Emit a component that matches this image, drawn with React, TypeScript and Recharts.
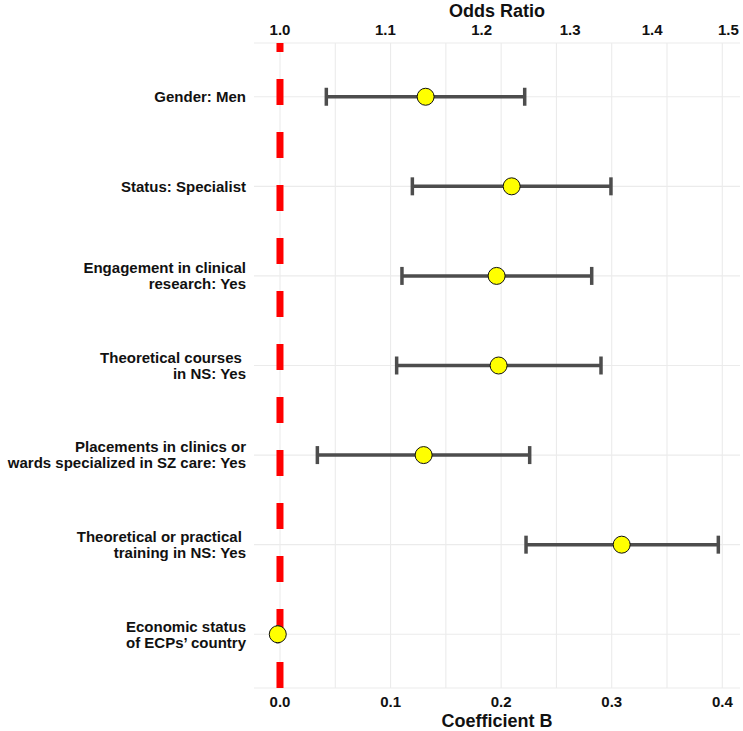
import React from 'react';
import { ScatterChart, Scatter, XAxis, YAxis, CartesianGrid, ErrorBar, ReferenceLine } from 'recharts';

// predictors, top to bottom
const predictors = [
  'Gender: Men',
  'Status: Specialist',
  'Engagement in clinical\nresearch: Yes',
  'Theoretical courses \nin NS: Yes',
  'Placements in clinics or\nwards specialized in SZ care: Yes',
  'Theoretical or practical \ntraining in NS: Yes',
  'Economic status\nof ECPs\u2019 country',
];
const coefB = [0.1317, 0.2095, 0.1959, 0.1977, 0.1299, 0.309, -0.002];
const ciLower = [0.0419, 0.1197, 0.1103, 0.1055, 0.0338, 0.2225, -0.002];
const ciUpper = [0.2213, 0.2993, 0.2819, 0.2903, 0.2258, 0.3964, -0.002];

const bTicks = [0, 0.1, 0.2, 0.3, 0.4];
const orTicks = [1.0, 1.1, 1.2, 1.3, 1.4, 1.5];
const gridB = [0, 0.05, 0.1, 0.15, 0.2, 0.25, 0.3, 0.35, 0.4];

const FONT = '"Liberation Sans", Arial, Helvetica, sans-serif';
const X_DOMAIN: [number, number] = [-0.0235, 0.416];

const rows = predictors.map((name, i) => ({
  name,
  y: i,
  b: coefB[i],
  err: [coefB[i] - ciLower[i], ciUpper[i] - coefB[i]],
}));

const PredictorTick = (props: any) => {
  const { y, payload } = props;
  const lines = (predictors[payload.value] || '').split('\n');
  const first = -(lines.length - 1) * 8 + 5.3;
  return (
    <text
      x={246}
      y={y + first}
      textAnchor="end"
      fontFamily={FONT}
      fontWeight="bold"
      fontSize={15}
      fill="#111"
      style={{ whiteSpace: 'pre' }}
    >
      {lines.map((ln, k) => (
        <tspan key={k} x={246} dy={k === 0 ? 0 : 16}>
          {ln}
        </tspan>
      ))}
    </text>
  );
};

const BottomTick = (props: any) => (
  <text x={props.x} y={707} textAnchor="middle" fontFamily={FONT} fontWeight="bold" fontSize={15} fill="#111">
    {props.payload.value.toFixed(1)}
  </text>
);

const TopTick = (props: any) => (
  <text x={props.x} y={35} textAnchor="middle" fontFamily={FONT} fontWeight="bold" fontSize={15} fill="#111">
    {Math.exp(props.payload.value).toFixed(1)}
  </text>
);

const Dot = (props: any) => (
  <circle cx={props.cx} cy={props.cy} r={8.5} fill="#FFFF00" stroke="#111" strokeWidth={1} />
);

const axisTitle = (text: string, baseline: number) => (props: any) => {
  const vb = props.viewBox || {};
  return (
    <text
      x={vb.x + vb.width / 2}
      y={baseline}
      textAnchor="middle"
      fontFamily={FONT}
      fontWeight="bold"
      fontSize={18}
      fill="#111"
    >
      {text}
    </text>
  );
};

export default function App() {
  return (
    <div style={{ width: 743, height: 731, background: '#fff' }}>
      <style>{'body{margin:0}'}</style>
      <ScatterChart width={743} height={731} margin={{ top: 0, right: 3, bottom: 0, left: 0 }}>
        <CartesianGrid horizontal vertical={false} stroke="#EBEBEB" strokeWidth={1.1} xAxisId="b" yAxisId="y" />
        <XAxis
          xAxisId="b"
          type="number"
          dataKey="b"
          domain={X_DOMAIN}
          allowDataOverflow
          ticks={bTicks}
          interval={0}
          tick={<BottomTick />}
          axisLine={false}
          tickLine={false}
          height={43}
          orientation="bottom"
          label={axisTitle('Coefficient B', 727)}
        />
        <XAxis
          xAxisId="t"
          type="number"
          dataKey="b"
          domain={X_DOMAIN}
          allowDataOverflow
          ticks={orTicks.map(Math.log)}
          interval={0}
          tick={<TopTick />}
          axisLine={false}
          tickLine={false}
          height={43}
          orientation="top"
          label={axisTitle('Odds Ratio', 17)}
        />
        <YAxis
          yAxisId="y"
          type="number"
          dataKey="y"
          domain={[-0.6, 6.6]}
          reversed
          ticks={predictors.map((_, i) => i)}
          interval={0}
          tick={<PredictorTick />}
          axisLine={false}
          tickLine={false}
          width={254}
        />
        {gridB.map((g) => (
          <ReferenceLine key={g} x={g} xAxisId="b" yAxisId="y" stroke="#EBEBEB" strokeWidth={1.1} />
        ))}
        <ReferenceLine x={0} xAxisId="b" yAxisId="y" stroke="#FF0000" strokeWidth={7} strokeDasharray="26 27" />
        <Scatter data={rows} xAxisId="b" yAxisId="y" shape={<Dot />} isAnimationActive={false}>
          <ErrorBar dataKey="err" direction="x" width={9} stroke="#4D4D4D" strokeWidth={3.5} isAnimationActive={false} />
        </Scatter>
      </ScatterChart>
    </div>
  );
}
